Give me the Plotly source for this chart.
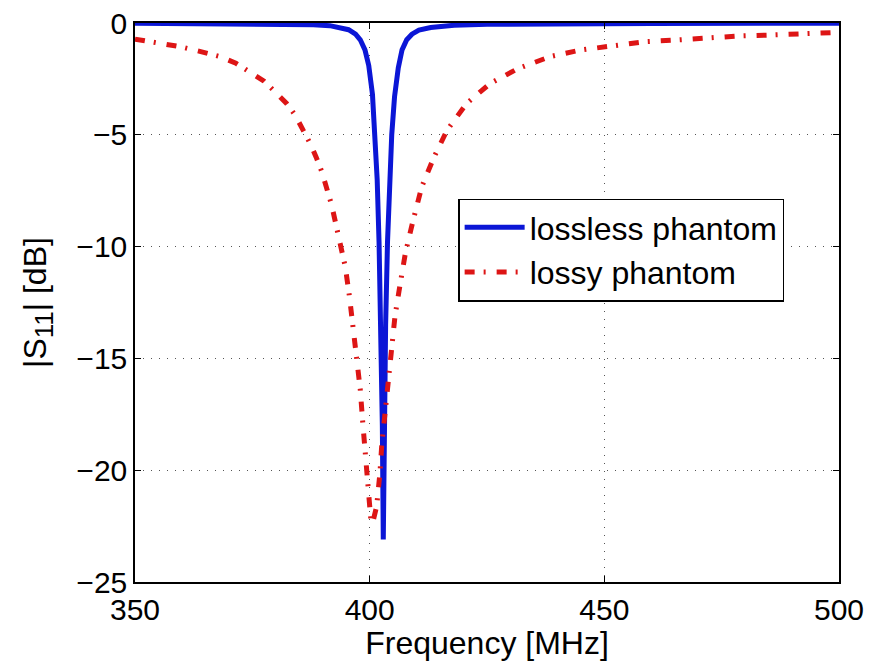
import plotly.graph_objects as go

# Frequency [MHz] and |S11| [dB]
lossless_freq = [350, 365, 380, 388, 391.5, 394, 395.5, 397, 398, 399, 399.8, 400.6,
                 401.1, 401.6, 402.0, 402.4, 402.7, 402.9, 403.1, 403.4, 403.8, 404.3,
                 404.7, 405.3, 406.1, 406.9, 407.9, 409, 410.5, 413, 418, 425, 440, 460, 500]
lossless_db = [-0.01, -0.02, -0.04, -0.08, -0.12, -0.2, -0.3, -0.5, -0.75, -1.2, -1.9, -3.2,
               -4.8, -7.0, -9.8, -13.5, -18.0, -23.1, -18.0, -13.5, -9.8, -6.6,
               -5.0, -3.3, -2.0, -1.2, -0.75, -0.5, -0.32, -0.2, -0.1, -0.06, -0.03, -0.02, -0.01]

lossy_freq = [350, 355, 359.6, 364, 368.1, 371.5, 374.5, 377.5, 380.2, 382.3, 384.1, 385.8,
              387.3, 388.6, 389.8, 391.9, 393.3, 394.8, 395.7, 396.5, 397.3, 398.0, 398.5,
              399.0, 399.7, 400.2, 400.6, 401.5, 402.2, 402.6, 403.3, 404.0, 404.6, 405.4,
              406.4, 407.6, 409.1, 411.1, 413.6, 416.5, 420.7, 425.7, 431.7, 438.5, 444.9,
              453.4, 458.4, 465.5, 472.2, 478.6, 485.4, 492.2, 500]
lossy_db = [-0.72, -0.9, -1.06, -1.28, -1.5, -1.8, -2.18, -2.6, -3.15, -3.6, -4.11, -4.75,
            -5.38, -6.0, -6.65, -8.14, -9.4, -10.9, -12.24, -13.6, -15.0, -16.4, -17.8,
            -19.2, -20.7, -22.1, -22.4, -21.6, -20.1, -18.8, -17.4, -16.0, -14.55, -13.1,
            -11.8, -10.3, -8.96, -7.32, -6.05, -4.79, -3.59, -2.70, -2.03, -1.5, -1.21,
            -0.98, -0.84, -0.76, -0.66, -0.58, -0.54, -0.46, -0.42]

x_ticks = [350, 400, 450, 500]
y_ticks = [-25, -20, -15, -10, -5, 0]

FONT = "Liberation Sans, Arial, Helvetica, sans-serif"

fig = go.Figure()
fig.add_trace(go.Scatter(x=lossless_freq, y=lossless_db, mode="lines",
                         name="lossless phantom",
                         line=dict(color="#0b16d6", width=5)))
fig.add_trace(go.Scatter(x=lossy_freq, y=lossy_db, mode="lines",
                         name="lossy phantom",
                         line=dict(color="#dd1515", width=5, dash="10px,9px,2px,11px")))

axis_common = dict(showline=True, linecolor="black", linewidth=1.5, mirror="ticks",
                   ticks="inside", ticklen=6, tickcolor="black", tickwidth=1,
                   showgrid=True, gridcolor="#555555", gridwidth=1, griddash="1px,7px",
                   zeroline=False, automargin=False,
                   tickfont=dict(family=FONT, size=30, color="black"))

fig.update_xaxes(range=[350, 500], tickvals=x_ticks, **axis_common,
                 title=dict(text="Frequency [MHz]", font=dict(family=FONT, size=32, color="black"),
                            standoff=0))
fig.update_yaxes(range=[-25, 0], tickvals=y_ticks, **axis_common,
                 title=dict(text="|S<sub><span style='font-size:26px'>11</span></sub>| [dB]",
                            font=dict(family=FONT, size=32, color="black"),
                            standoff=20))

fig.update_layout(
    width=870, height=661,
    margin=dict(l=135, r=31, t=23, b=79),
    paper_bgcolor="white", plot_bgcolor="white",
    font=dict(family=FONT, size=32, color="black"),
    legend=dict(x=0.459, y=0.686, xanchor="left", yanchor="top",
                bgcolor="white", bordercolor="black", borderwidth=1.5,
                font=dict(family=FONT, size=32, color="black"),
                tracegroupgap=0, itemwidth=60),
    showlegend=True,
)

fig.write_html("out.html")
